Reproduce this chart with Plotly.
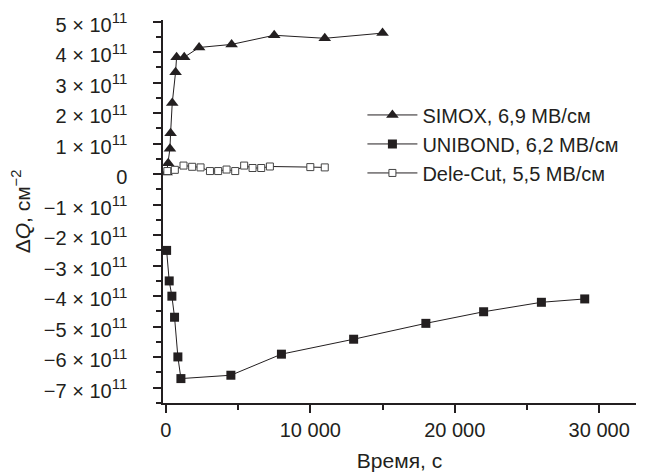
import plotly.graph_objects as go

# ---- data (charges in units of 1e11 cm^-2) ----
simox_t = [50, 160, 280, 325, 440, 670, 740, 1270, 2300, 4550, 7500, 11000, 15000]
simox_q = [0.05, 0.36, 0.83, 1.34, 2.33, 3.34, 3.83, 3.83, 4.15, 4.25, 4.55, 4.45, 4.62]

unibond_t = [50, 230, 415, 600, 830, 1040, 4500, 8000, 13000, 18000, 22000, 26000, 29000]
unibond_q = [-2.5, -3.5, -4.0, -4.69, -5.99, -6.7, -6.59, -5.9, -5.41, -4.89, -4.51, -4.2, -4.09]

delecut_t = [100, 620, 1220, 1820, 2400, 3050, 3620, 4200, 4800, 5420, 6000, 6600, 7200, 10000, 11000]
delecut_q = [0.1, 0.14, 0.28, 0.24, 0.22, 0.1, 0.1, 0.15, 0.1, 0.28, 0.2, 0.2, 0.25, 0.23, 0.22]

y_ticks = [-7, -6, -5, -4, -3, -2, -1, 0, 1, 2, 3, 4, 5]
x_ticks = [0, 10000, 20000, 30000]
labels = ["SIMOX, 6,9 МВ/см", "UNIBOND, 6,2 МВ/см", "Dele-Cut, 5,5 МВ/см"]

E = 1e11
FONT = "Liberation Sans, Arial, sans-serif"
INK = "#231f20"

def ylab(v):
    if v == 0:
        return "0"
    s = "\u2212" if v < 0 else ""
    return f"{s}{abs(v)} \u00d7 10<sup><span style='font-size:15px'>11</span></sup>"

def xlab(v):
    return f"{v:,}".replace(",", " ")

fig = go.Figure()
fig.add_trace(go.Scatter(
    x=simox_t, y=[q * E for q in simox_q], name=labels[0], mode="lines+markers",
    line=dict(color=INK, width=1),
    marker=dict(symbol="triangle-up", size=11, color=INK)))
fig.add_trace(go.Scatter(
    x=unibond_t, y=[q * E for q in unibond_q], name=labels[1], mode="lines+markers",
    line=dict(color=INK, width=1),
    marker=dict(symbol="square", size=9, color=INK)))
fig.add_trace(go.Scatter(
    x=delecut_t, y=[q * E for q in delecut_q], name=labels[2], mode="lines+markers",
    line=dict(color=INK, width=1),
    marker=dict(symbol="square", size=7, color="white", line=dict(color="#444", width=1))))

fig.update_layout(
    width=638, height=467,
    margin=dict(l=155, r=10, t=12, b=72),
    paper_bgcolor="white", plot_bgcolor="white",
    font=dict(family=FONT, size=20, color=INK),
    showlegend=True,
    legend=dict(x=0.4216, y=0.803, xanchor="left", yanchor="top",
                bgcolor="rgba(0,0,0,0)", font=dict(size=20),
                itemwidth=50, tracegroupgap=0),
    xaxis=dict(
        range=[-200, 32550], showgrid=False, zeroline=False, automargin=False,
        showline=True, linecolor=INK, linewidth=1.5,
        ticks="outside", ticklen=8, tickwidth=1.5, tickcolor=INK,
        tickmode="array", tickvals=x_ticks, ticktext=[xlab(v) for v in x_ticks],
        minor=dict(ticks="outside", ticklen=5, tickwidth=1.5, tickcolor=INK, dtick=5000, tick0=0),
        title=dict(text="Время, с", font=dict(size=21), standoff=14),
        tickfont=dict(size=20),
    ),
    yaxis=dict(
        range=[-7.5 * E, 5.05 * E], showgrid=False, zeroline=False, automargin=False,
        showline=True, linecolor=INK, linewidth=1.5,
        ticks="outside", ticklen=8, tickwidth=1.5, tickcolor=INK,
        tickmode="array", tickvals=[v * E for v in y_ticks],
        ticktext=[ylab(v) for v in y_ticks], ticklabelstandoff=22,
        ticklabeloverflow="allow", ticklabelshift=3,
        minor=dict(ticks="outside", ticklen=5, tickwidth=1.5, tickcolor=INK, dtick=0.5 * E, tick0=0),
        title=dict(text="\u0394<i>Q</i>, см<sup>\u22122</sup>", font=dict(size=21), standoff=10),
        tickfont=dict(size=20),
    ),
)

fig.write_html("out.html")
